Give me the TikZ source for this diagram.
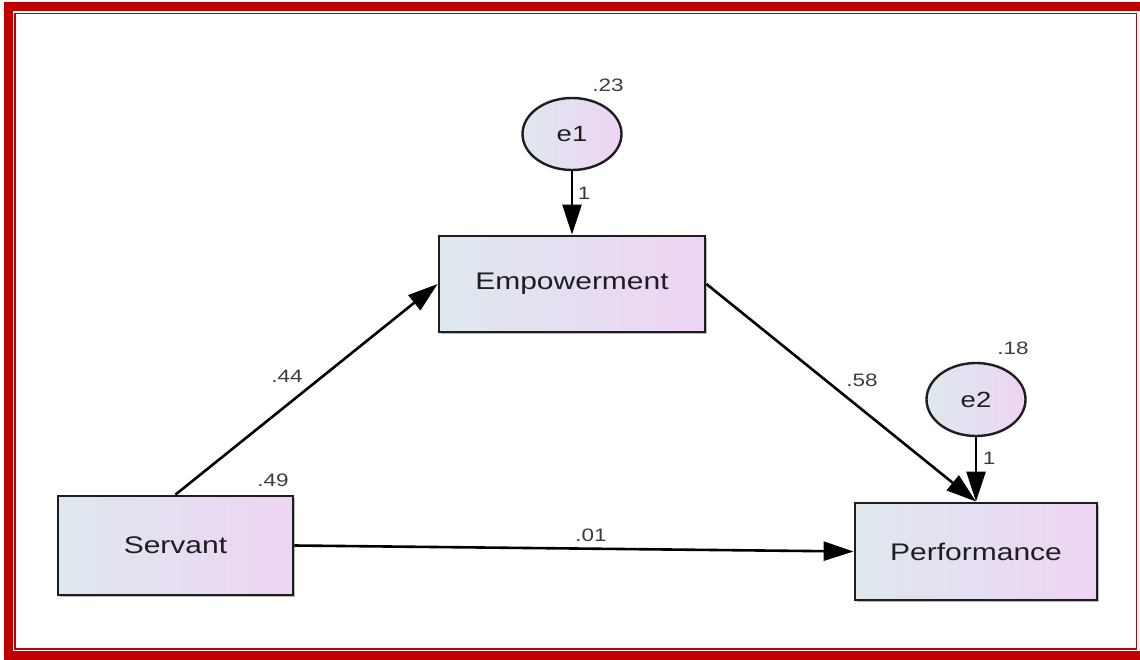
\documentclass[tikz,border=0pt]{standalone}
\usepackage{fontspec}
\setmainfont{Liberation Sans}
\usetikzlibrary{arrows.meta,shadows,shapes.geometric}

\definecolor{frameRed}{RGB}{192,0,0}
\definecolor{fillL}{RGB}{222,232,238}
\definecolor{fillR}{RGB}{238,212,244}
\definecolor{inkDark}{RGB}{30,30,30}
\definecolor{inkNum}{RGB}{60,60,60}

% Slightly widened lettering
\newcommand{\wide}[1]{\scalebox{1.25}[1]{#1}}

\tikzset{
  varbox/.style={draw=inkDark, line width=2.8pt, left color=fillL, right color=fillR,
    minimum width=#1, inner sep=0pt,
    drop shadow={shadow xshift=2pt, shadow yshift=-2pt, fill=black!50, opacity=0.55},
    font=\fontsize{24}{28}\selectfont, text=inkDark},
  errnode/.style={draw=inkDark, line width=2.4pt, ellipse, left color=fillL, right color=fillR,
    minimum width=99pt, minimum height=72pt, inner sep=0pt,
    font=\fontsize{22}{26}\selectfont, text=inkDark},
  coef/.style={font=\fontsize{18}{22}\selectfont, text=inkNum, inner sep=0pt},
  path/.style={line width=2.6pt, draw=black, -{Triangle[length=30pt,width=19pt]}},
}

\begin{document}
\begin{tikzpicture}[x=1pt,y=-1pt]
\useasboundingbox (0,0) rectangle (1140,660);

% double red frame
\draw[frameRed, line width=9pt] (8.5,6.5) rectangle (1148,655.8);
\draw[frameRed, line width=1.6pt] (14.8,13.5) rectangle (1136.5,649.1);

% observed variables
\node[varbox=266pt, minimum height=96pt] (emp) at (572,284) {\wide{Empowerment}};
\node[varbox=235pt, minimum height=99pt] (srv) at (175.5,545.5) {\wide{Servant}};
\node[varbox=242pt, minimum height=97pt] (perf) at (976,551.5) {\wide{Performance}};

% error terms
\node[errnode] (e1) at (572,134) {\wide{e1}};
\node[errnode, minimum height=73pt] (e2) at (976,399.5) {\wide{e2}};

% paths
\draw[path] (e1.south) -- (emp.north);
\draw[path] (e2.south) -- (perf.north);
\draw[path] (srv.north) -- (emp.west);
\draw[path] (emp.east) -- (perf.north);
\draw[path] (srv.east) -- (perf.west);

% estimates
\node[coef] (v23) at (608,85) {\wide{.23}};
\node[coef] (v18) at (1013,348) {\wide{.18}};
\node[coef] (v49) at (273,480) {\wide{.49}};
\node[coef] (v44) at (287,376) {\wide{.44}};
\node[coef] (v58) at (862,380) {\wide{.58}};
\node[coef] (v01) at (591,535) {\wide{.01}};
\node[coef] (w1) at (584,193) {\wide{1}};
\node[coef] (w2) at (989,458) {\wide{1}};
\end{tikzpicture}
\end{document}
